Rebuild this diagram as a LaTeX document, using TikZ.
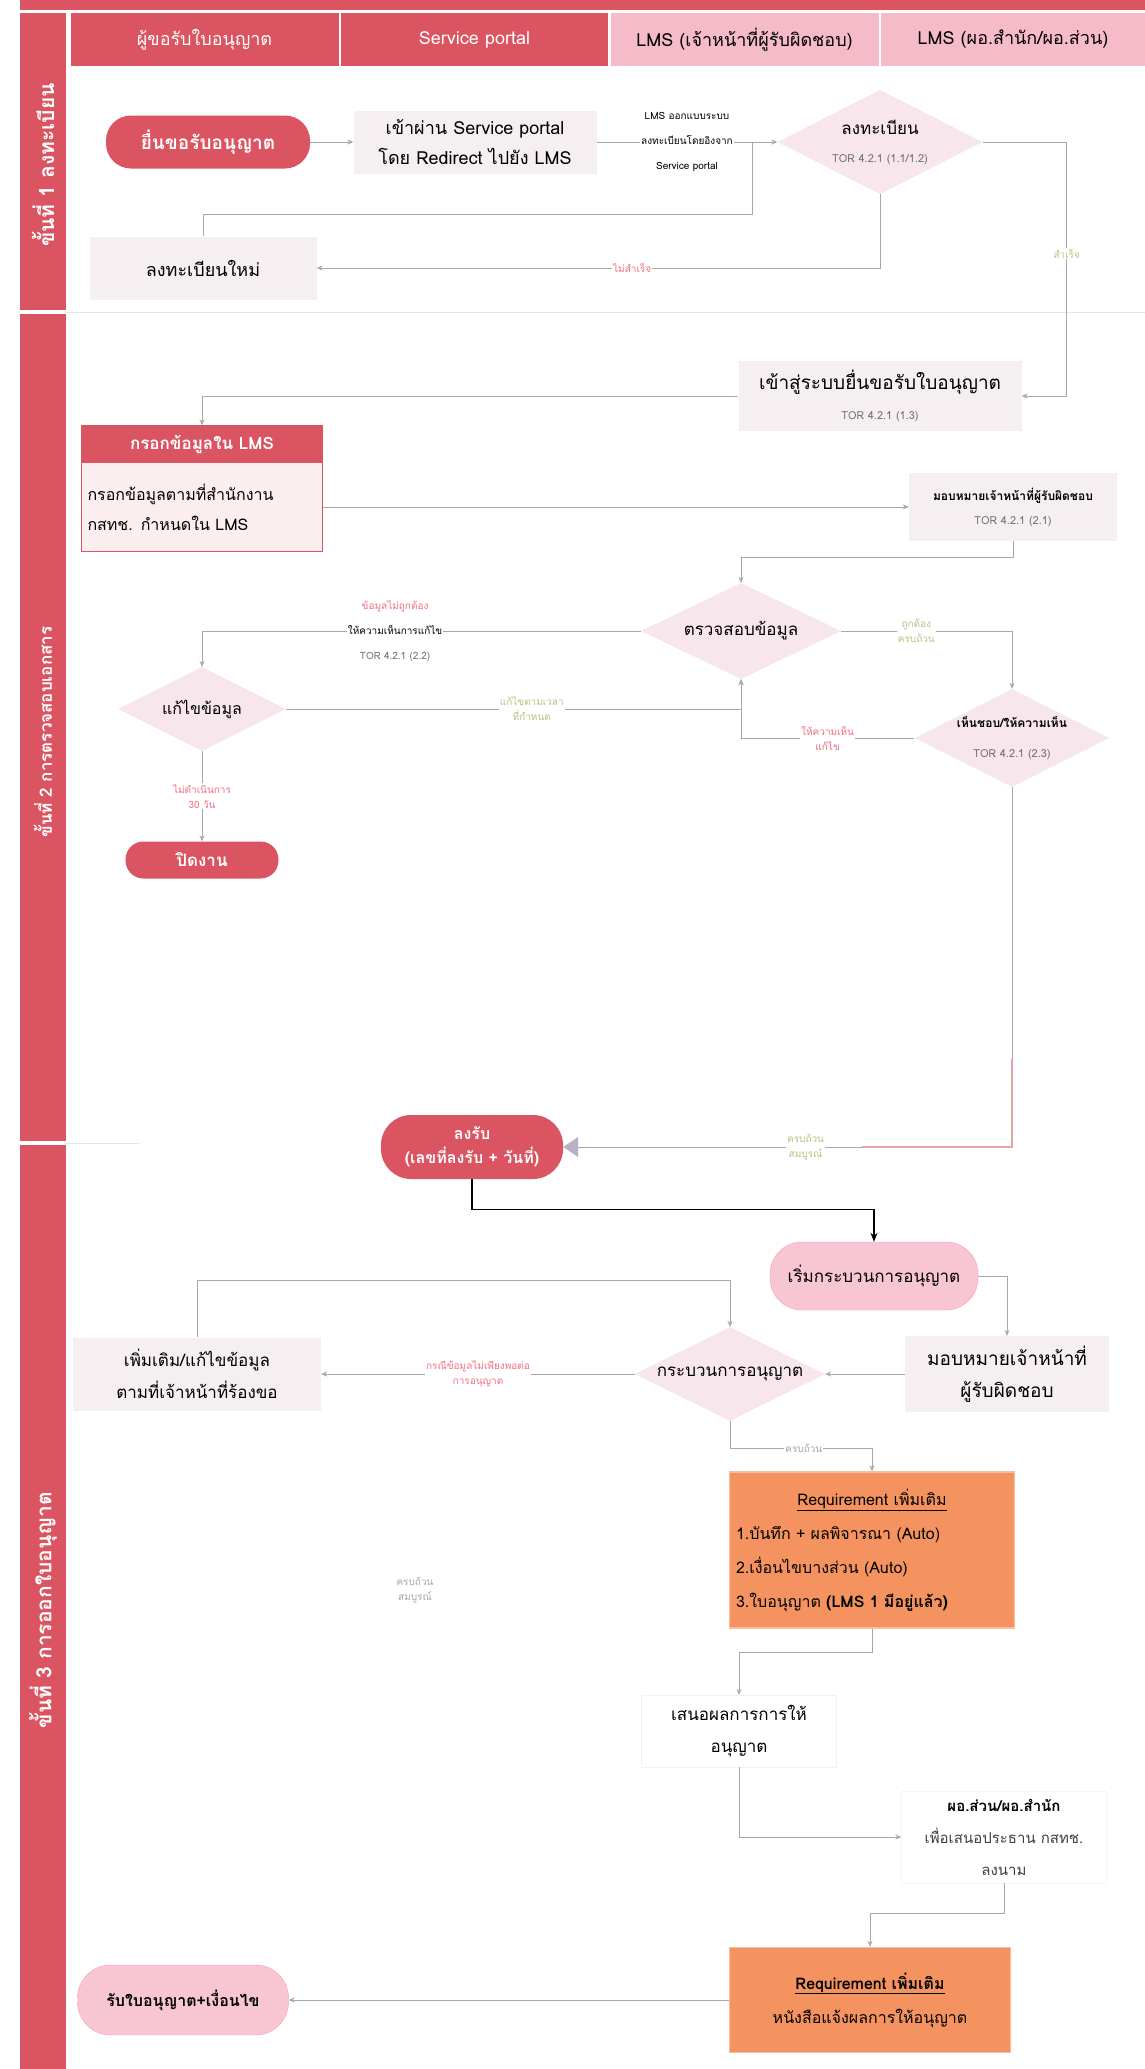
\documentclass[tikz,border=0pt]{standalone}
\usepackage{fontspec}
\setmainfont{Loma}[Script=Thai]
\usepackage{xcolor}
\usetikzlibrary{calc,positioning,shapes.geometric,arrows.meta}

\definecolor{laneRed}{RGB}{218,84,97}
\definecolor{lanePink}{RGB}{246,187,200}
\definecolor{boxGray}{RGB}{245,239,242}
\definecolor{diaPink}{RGB}{247,230,235}
\definecolor{pillPink}{RGB}{248,198,211}
\definecolor{reqOrange}{RGB}{245,147,96}
\definecolor{lineGray}{RGB}{168,168,168}
\definecolor{lblRed}{RGB}{241,112,126}
\definecolor{lblGreen}{RGB}{190,190,130}
\definecolor{torGray}{RGB}{110,110,110}
\definecolor{arrowLav}{RGB}{185,178,198}

\newcommand{\fsz}[2]{\fontsize{#1}{#2}\selectfont}
\newcommand{\torref}[1]{{\fsz{11}{14}\color{torGray}TOR #1}}

\begin{document}
\begin{tikzpicture}[x=1pt, y=-1pt,
    lanehead/.style={rectangle, fill=laneRed, text=white, minimum width=268pt, minimum height=53pt, inner sep=0pt, font=\fsz{18}{21}},
    lanesoft/.style={lanehead, fill=lanePink, text=black},
    phase/.style={rotate=90, text=white, font=\fsz{19}{22}\bfseries},
    pill/.style={rectangle, rounded corners=18pt, fill=laneRed, text=white, align=center, inner sep=0pt, font=\fsz{17}{21}\bfseries},
    softpill/.style={pill, fill=pillPink, draw=pillPink!80!red, text=black},
    box/.style={rectangle, fill=boxGray, align=center, inner sep=0pt, font=\fsz{18}{30}},
    decision/.style={diamond, fill=diaPink, inner sep=0pt},
    dtext/.style={align=center, font=\fsz{16}{22}},
    req/.style={rectangle, fill=reqOrange, draw=reqOrange!60!white, line width=1.5pt, inner sep=0pt, font=\fsz{16}{34}},
    arrow/.style={-{Stealth[length=6pt,width=5pt]}, draw=lineGray, line width=0.7pt},
    plainline/.style={draw=lineGray, line width=0.7pt},
    bigarrow/.style={-{Triangle[length=15pt,width=20pt,color=arrowLav]}, draw=lineGray, line width=0.9pt},
    blackarrow/.style={-{Stealth[length=9pt,width=7pt]}, draw=black, line width=1.2pt},
    lbl/.style={fill=white, inner sep=1pt, align=center, font=\fsz{10}{15}}
]
    \fill[white] (0,0) rectangle (1145,2069);
    \useasboundingbox (0,0) rectangle (1145,2069);
    \fill[laneRed] (20,0) rectangle (1145,10);
    \fill[laneRed] (20,13) rectangle (66,2069);
    \fill[white] (20,310) rectangle (66,314);
    \fill[white] (20,1141) rectangle (66,1145);
    \draw[black!10] (66,312) -- (1145,312);
    \draw[black!10] (66,1143) -- (140,1143);

    \node[lanehead] (hApplicant) at (204.5,39.5) {ผู้ขอรับใบอนุญาต};
    \node[lanehead, minimum width=267pt] (hPortal) at (474.5,39.5) {Service portal};
    \node[lanesoft] (hOfficer) at (744.5,39.5) {LMS (เจ้าหน้าที่ผู้รับผิดชอบ)};
    \node[lanesoft, minimum width=264pt] (hDirector) at (1013,39.5) {LMS (ผอ.สำนัก/ผอ.ส่วน)};

    \node[phase, font=\fsz{21}{24}\bfseries] (ph1) at (43,165) {ขั้นที่ 1 ลงทะเบียน};
    \node[phase, font=\fsz{17}{20}\bfseries] (ph2) at (43,732) {ขั้นที่ 2 การตรวจสอบเอกสาร};
    \node[phase, font=\fsz{21}{24}\bfseries] (ph3) at (43,1610) {ขั้นที่ 3 การออกใบอนุญาต};

    \node[pill, minimum width=204pt, minimum height=53pt, rounded corners=25pt, font=\fsz{19}{23}\bfseries] (submit) at (208,142) {ยื่นขอรับอนุญาต};
    \node[box, minimum width=243pt, minimum height=63pt] (portal) at (475,142) {เข้าผ่าน Service portal\\โดย Redirect ไปยัง LMS};
    \node[decision, minimum width=205pt, minimum height=104pt, label={[dtext, font=\fsz{17}{22}]center:{ลงทะเบียน\\[6pt]\torref{4.2.1 (1.1/1.2)}}}] (register) at (880,142) {};
    \node[box, minimum width=227pt, minimum height=63pt] (renew) at (203,268) {ลงทะเบียนใหม่};
    \coordinate (rejoin) at (752,142);

    \node[box, minimum width=283pt, minimum height=70pt, font=\fsz{19}{30}] (login) at (880,396) {เข้าสู่ระบบยื่นขอรับใบอนุญาต\\\torref{4.2.1 (1.3)}};
    \node[rectangle, fill=laneRed, text=white, minimum width=241pt, minimum height=37pt, font=\fsz{17}{20}\bfseries] (fillin) at (202,444) {กรอกข้อมูลใน LMS};
    \node[rectangle, fill=laneRed!10, minimum width=241pt, minimum height=88pt, text width=229pt, align=left, below=0pt of fillin, font=\fsz{16}{30}] (fillbody) {กรอกข้อมูลตามที่สำนักงาน\\กสทช. กำหนดใน LMS};
    \node[box, minimum width=208pt, minimum height=68pt, font=\fsz{12}{24}\bfseries] (assign) at (1013,507) {มอบหมายเจ้าหน้าที่ผู้รับผิดชอบ\\{\mdseries\torref{4.2.1 (2.1)}}};
    \node[decision, minimum width=200pt, minimum height=96pt, label={[dtext, font=\fsz{17}{20}]center:ตรวจสอบข้อมูล}] (verify) at (741,631) {};
    \node[decision, minimum width=168pt, minimum height=84pt, label={[dtext, font=\fsz{16}{20}]center:แก้ไขข้อมูล}] (fix) at (202,709) {};
    \node[decision, minimum width=195pt, minimum height=98pt, label={[dtext]center:{{\bfseries\fsz{12}{16}เห็นชอบ/ให้ความเห็น}\\[8pt]\torref{4.2.1 (2.3)}}}] (approve) at (1012,738) {};
    \node[pill, minimum width=153pt, minimum height=37pt] (close) at (202,860) {ปิดงาน};
    \node[pill, minimum width=182pt, minimum height=64pt, rounded corners=30pt, font=\fsz{16}{24}\bfseries] (receive) at (472,1147) {ลงรับ\\(เลขที่ลงรับ + วันที่)};

    \node[softpill, minimum width=208pt, minimum height=68pt, rounded corners=32pt, font=\fsz{17}{20}] (start) at (874,1276) {เริ่มกระบวนการอนุญาต};
    \node[box, minimum width=204pt, minimum height=76pt, font=\fsz{19}{32}] (assign2) at (1007,1374) {มอบหมายเจ้าหน้าที่\\ผู้รับผิดชอบ};
    \node[decision, minimum width=190pt, minimum height=94pt, label={[dtext, font=\fsz{17}{20}]center:กระบวนการอนุญาต}] (process) at (730,1374) {};
    \node[box, minimum width=248pt, minimum height=73pt, font=\fsz{17}{32}] (more) at (197,1374) {เพิ่มเติม/แก้ไขข้อมูล\\ตามที่เจ้าหน้าที่ร้องขอ};
    \node[req, minimum width=285pt, minimum height=156pt, text width=272pt, align=left] (req1) at (872,1550) {\makebox[272pt][c]{\underline{Requirement เพิ่มเติม}}\\1.บันทึก + ผลพิจารณา (Auto)\\2.เงื่อนไขบางส่วน (Auto)\\3.ใบอนุญาต \textbf{(LMS 1 มีอยู่แล้ว)}};
    \node[lbl, text=black!35] (floatNote) at (415,1590) {ครบถ้วน\\สมบูรณ์};
    \node[rectangle, fill=white, draw=black!5, minimum width=195pt, minimum height=72pt, align=center, font=\fsz{17}{32}] (propose) at (739,1731) {เสนอผลการการให้\\อนุญาต};
    \node[rectangle, fill=white, draw=black!4, minimum width=205pt, minimum height=92pt, align=center, font=\fsz{15}{32}] (director) at (1004,1837) {\textbf{ผอ.ส่วน/ผอ.สำนัก}\\\textcolor{black!75}{เพื่อเสนอประธาน กสทช.}\\\textcolor{black!75}{ลงนาม}};
    \node[req, minimum width=281pt, minimum height=105pt, align=center] (req2) at (870,2000) {\textbf{\underline{Requirement เพิ่มเติม}}\\หนังสือแจ้งผลการให้อนุญาต};
    \node[softpill, minimum width=211pt, minimum height=70pt, rounded corners=33pt, font=\fsz{16}{20}\bfseries] (getlic) at (183,2000) {รับใบอนุญาต+เงื่อนไข};

    \draw[arrow] (submit) -- (portal);
    \draw[arrow] (portal) -- node[lbl, text=black, font=\fsz{10}{25}] (portalNote) {LMS ออกแบบระบบ\\ลงทะเบียนโดยอิงจาก\\Service portal} (register);
    \draw[plainline] (renew.north) -- ++(0,-22) -| (rejoin);
    \draw[arrow] (register.south) |- node[lbl, text=lblRed, pos=0.72] {ไม่สำเร็จ} (renew.east);
    \draw[arrow] (register.east) -- ++(84,0) |- node[lbl, text=lblGreen, pos=0.22] {สำเร็จ} (login.east);
    \draw[arrow] (login.west) -| (fillin.north);
    \draw[laneRed, line width=1.2pt] (fillin.north west) rectangle (fillbody.south east);
    \draw[arrow] (fillbody.east) -- (fillbody.east -| assign.west);
    \draw[arrow] (assign.south) -- ++(0,16) -| (verify.north);
    \draw[arrow] (verify.west) -| node[lbl, pos=0.28, font=\fsz{10}{25}] (fixNote) {\textcolor{lblRed}{ข้อมูลไม่ถูกต้อง}\\ให้ความเห็นการแก้ไข\\\textcolor{torGray}{TOR 4.2.1 (2.2)}} (fix.north);
    \draw[arrow] (fix.east) -| node[lbl, text=lblGreen, pos=0.27] {แก้ไขตามเวลา\\ที่กำหนด} (verify.south);
    \draw[arrow] (verify.east) -| node[lbl, text=lblGreen, pos=0.22] {ถูกต้อง\\ครบถ้วน} (approve.north);
    \draw[arrow] (approve.west) -| node[lbl, text=lblRed, pos=0.25] {ให้ความเห็น\\แก้ไข} (verify.south);
    \draw[arrow] (fix.south) -- node[lbl, text=lblRed] {ไม่ดำเนินการ\\30 วัน} (close.north);
    \draw[bigarrow] (approve.south) |- node[lbl, text=lblGreen, pos=0.73] {ครบถ้วน\\สมบูรณ์} (receive.east);
    \draw[laneRed!55, line width=1.3pt] (approve.south |- receive.east) ++(0,-88) -- (approve.south |- receive.east) -- ++(-150,0);
    \draw[blackarrow] (receive.south) -- ++(0,30) -| (start.north);

    \draw[arrow] (start.east) -| (assign2.north);
    \draw[arrow] (assign2.west) -- (process.east);
    \draw[arrow] (process.west) -- node[lbl, text=lblRed] {กรณีข้อมูลไม่เพียงพอต่อ\\การอนุญาต} (more.east);
    \draw[arrow] (more.north) -- ++(0,-57) -| (process.north);
    \draw[arrow] (process.south) -- ++(0,27) -| node[lbl, text=black!35, pos=0.26] {ครบถ้วน} (req1.north);
    \draw[arrow] (req1.south) -- ++(0,24) -| (propose.north);
    \draw[arrow] (propose.south) |- (director.west);
    \draw[arrow] (director.south) -- ++(0,30) -| (req2.north);
    \draw[arrow] (req2.west) -- (getlic.east);
\end{tikzpicture}
\end{document}
